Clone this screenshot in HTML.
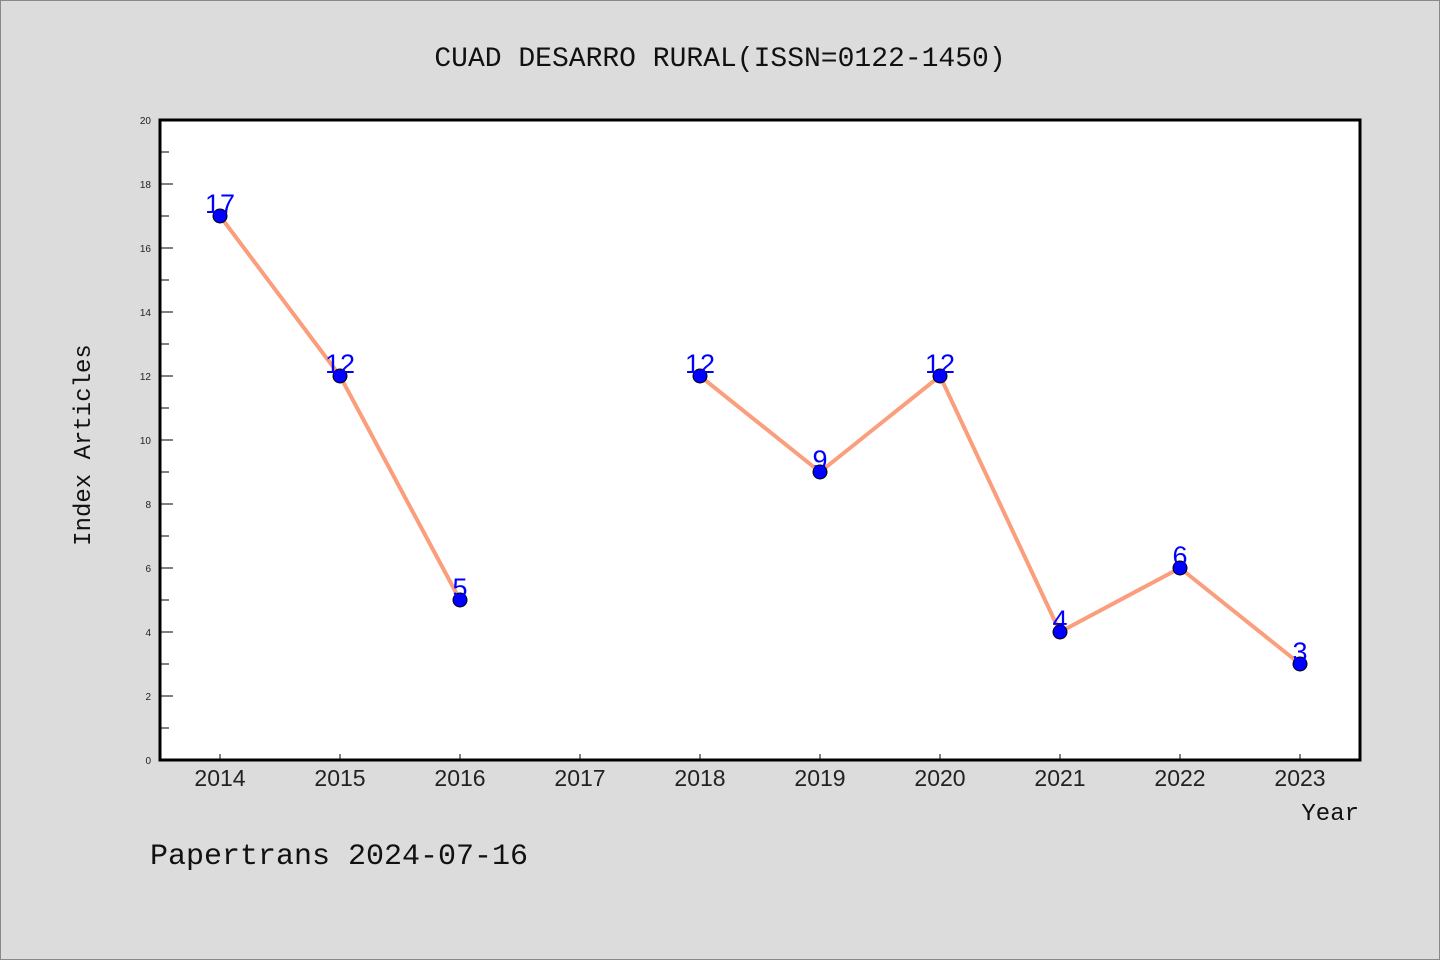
<!DOCTYPE html>
<html><head><meta charset="utf-8"><style>
html,body{margin:0;padding:0;background:#dcdcdc;}
svg{display:block;font-family:"Liberation Mono","DejaVu Sans Mono",monospace;}
</style></head><body>
<svg id="chart" width="1440" height="960" xmlns="http://www.w3.org/2000/svg">
<rect x="0.5" y="0.5" width="1439" height="959" fill="#dcdcdc" stroke="#888"/>
<text x="720" y="66" text-anchor="middle" font-size="28" fill="#111">CUAD DESARRO RURAL(ISSN=0122-1450)</text>
<rect x="160" y="120" width="1200" height="640" fill="#fff"/>
<g id="yaxis"></g>
<g id="xaxis"></g>
<g id="lines"></g>
<g id="points"></g>
<rect x="160" y="120" width="1200" height="640" fill="none" stroke="#000" stroke-width="3"/>
<text transform="translate(90,445) rotate(-90)" text-anchor="middle" font-size="24" fill="#111">Index Articles</text>
<text x="1359" y="820" text-anchor="end" font-size="24" fill="#111">Year</text>
<text x="150" y="864" font-size="30" fill="#111">Papertrans 2024-07-16</text>
</svg>
<script>
const years = [2014, 2015, 2016, 2017, 2018, 2019, 2020, 2021, 2022, 2023];
const articles = [17, 12, 5, null, 12, 9, 12, 4, 6, 3];
const yTicks = [0, 2, 4, 6, 8, 10, 12, 14, 16, 18, 20];
const NS = "http://www.w3.org/2000/svg";
const X0 = 160, X1 = 1360, Y0 = 760, Y1 = 120, YMAX = 20;
function xs(i){ return X0 + 60 + i * (X1 - X0 - 120) / (years.length - 1); }
function ys(v){ return Y0 - v / YMAX * (Y0 - Y1); }
function mk(tag, attrs, parent){ const e = document.createElementNS(NS, tag); for (const k in attrs) e.setAttribute(k, attrs[k]); parent.appendChild(e); return e; }
const ya = document.getElementById('yaxis');
yTicks.forEach((t, i) => {
  const y = ys(t);
  const tk = mk('line', {x1: X0, x2: X0 + 13, y1: y, y2: y, stroke: '#000', 'stroke-width': 1}, ya);
  
  
  const lb = mk('text', {x: 151, y: y + 4, 'text-anchor': 'end', 'font-size': 10, fill: '#222', 'font-family': 'Liberation Sans, sans-serif'}, ya);
  lb.textContent = t;
  
  
  if (i < yTicks.length - 1) {
    const ym = ys(t + 1);
    const mn = mk('line', {x1: X0, x2: X0 + 9, y1: ym, y2: ym, stroke: '#000', 'stroke-width': 1}, ya);
    
    
  }
});
const xa = document.getElementById('xaxis');
years.forEach((yr, i) => {
  const x = xs(i);
  const tk = mk('line', {x1: x, x2: x, y1: Y0, y2: Y0 - 6, stroke: '#000', 'stroke-width': 1}, xa);
  
  
  const lb = mk('text', {x: x, y: 786, 'text-anchor': 'middle', 'font-size': 23, fill: '#222', 'font-family': 'Liberation Sans, sans-serif'}, xa);
  lb.textContent = yr;
  
  
});
const lg = document.getElementById('lines');
for (let i = 0; i < years.length - 1; i++) {
  if (articles[i] == null || articles[i + 1] == null) continue;
  const seg = mk('line', {x1: xs(i), y1: ys(articles[i]), x2: xs(i + 1), y2: ys(articles[i + 1]), stroke: '#fa9e7c', 'stroke-width': 4, 'stroke-linecap': 'round'}, lg);
  
  
}
const pg = document.getElementById('points');
years.forEach((yr, i) => {
  const v = articles[i];
  if (v == null) return;
  const c = mk('circle', {cx: xs(i), cy: ys(v), r: 7, fill: '#0000ff', stroke: '#000', 'stroke-width': 1}, pg);
  
  
  const t = mk('text', {x: xs(i), y: ys(v) - 3, 'text-anchor': 'middle', 'font-size': 27, fill: '#0000ff', 'font-family': 'Liberation Sans, sans-serif'}, pg);
  t.textContent = v;
  
  
});
</script>
</body></html>
